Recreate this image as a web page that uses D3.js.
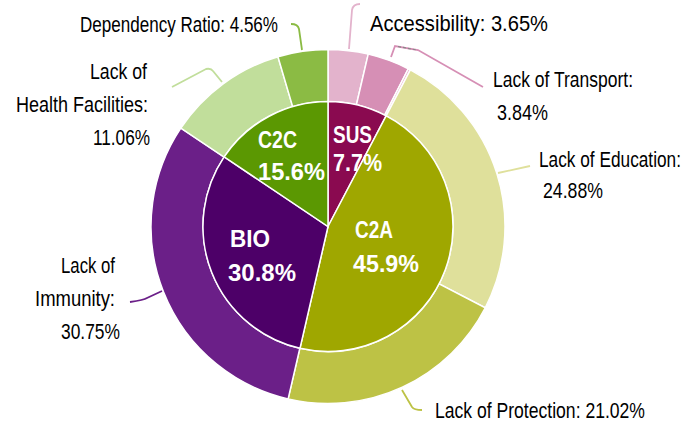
<!DOCTYPE html>
<html>
<head>
<meta charset="utf-8">
<script src="https://cdn.jsdelivr.net/npm/d3@7"></script>
<style>
  html, body { margin: 0; padding: 0; background: #fff; }
  svg { display: block; }
  .outer-label { font-family: "Liberation Sans", sans-serif; font-size: 22.5px; fill: #000; }
  .inner-label { font-family: "Liberation Sans", sans-serif; font-size: 24px; font-weight: bold; fill: #fff; }
</style>
</head>
<body>
<div id="chart"></div>
<script>
// inner ring: groups
const groups = ["SUS", "C2A", "BIO", "C2C"];
const groupValues = [7.7, 45.9, 30.8, 15.6];

// outer ring: factors
const factors = ["Accessibility", "Lack of Transport", "Other", "Lack of Education", "Lack of Protection",
                 "Lack of Immunity", "Lack of Health Facilities", "Dependency Ratio"];
const factorValues = [3.65, 3.84, 0.21, 24.88, 21.02, 30.75, 11.06, 4.56];
const factorGroups = ["SUS", "SUS", "SUS", "C2A", "C2A", "BIO", "C2C", "C2C"];

const groupColors = ["#8a0a50", "#9fa700", "#4d0068", "#5b9802"];
const factorColors = ["#e3b3cc", "#d68fb5", "#e7b3cd", "#dfe09b", "#bdc245", "#6b1f88", "#c1de9b", "#8bbb44"];

const width = 687, height = 425;
const cx = 328, cy = 226.5;
const rInner = 125, rOuter = 177;

const svg = d3.select("#chart").append("svg")
  .attr("width", width)
  .attr("height", height);

const g = svg.append("g").attr("transform", `translate(${cx},${cy})`);

const pie = d3.pie().sort(null).value(d => d.value);

const innerData = pie(groups.map((name, i) => ({ name, value: groupValues[i], color: groupColors[i] })));
const outerData = pie(factors.map((name, i) => ({ name, value: factorValues[i], group: factorGroups[i], color: factorColors[i] })));

const arcInner = d3.arc().innerRadius(0).outerRadius(rInner);
const arcOuter = d3.arc().innerRadius(rInner).outerRadius(rOuter);

g.selectAll("path.outer")
  .data(outerData)
  .enter().append("path")
  .attr("class", "outer")
  .attr("d", arcOuter)
  .attr("fill", d => d.data.color)
  .attr("stroke", "#fff")
  .attr("stroke-width", 1.5);

g.selectAll("path.inner")
  .data(innerData)
  .enter().append("path")
  .attr("class", "inner")
  .attr("d", arcInner)
  .attr("fill", d => d.data.color)
  .attr("stroke", "#fff")
  .attr("stroke-width", 1.5);

// squeeze text to the narrow widths of the original font
function addText(cls, x, y, str, w, anchor) {
  svg.append("text")
    .attr("class", cls)
    .attr("x", x)
    .attr("y", y)
    .attr("text-anchor", anchor || "start")
    .attr("textLength", w)
    .attr("lengthAdjust", "spacingAndGlyphs")
    .text(str);
}

// inner labels (left aligned, placed by hand like the original)
// [x, y, width] for name line and value line
const innerLabelPos = {
  SUS: [[333, 143, 39], [333, 171, 49]],
  C2A: [[355, 238, 38], [353, 272, 66]],
  BIO: [[230, 247, 40], [228, 281, 68]],
  C2C: [[258, 148, 39], [258, 180, 67]]
};
innerData.forEach(d => {
  const p = innerLabelPos[d.data.name];
  addText("inner-label", p[0][0], p[0][1], d.data.name, p[0][2]);
  addText("inner-label", p[1][0], p[1][1], d.data.value.toFixed(1) + "%", p[1][2]);
});

// outer labels and leader lines; line entries are [x, y, text, width]
const outerLabels = [
  { name: "Dependency Ratio", anchor: "end", lines: [[278, 32, "Dependency Ratio: 4.56%", 198]],
    path: "M302,50 L299,29 Q298,24 291,24" },
  { name: "Lack of Health Facilities", anchor: "end", lines: [[147, 79, "Lack of", 57], [148, 112, "Health Facilities:", 132], [150, 145, "11.06%", 57]],
    path: "M222,82 L213,71 Q211,68 206,69 L172,87" },
  { name: "Lack of Immunity", anchor: "end", lines: [[115, 273, "Lack of", 54], [115, 306, "Immunity:", 80], [120, 339, "30.75%", 59]],
    path: "M162,291 L147,298 Q144,300 130,302" },
  { name: "Accessibility", anchor: "start", lines: [[370, 31, "Accessibility: 3.65%", 178]],
    path: "M349,49 L352,10 Q353,4 360,4" },
  { name: "Lack of Transport", anchor: "start", lines: [[493, 87, "Lack of Transport:", 140], [497, 120, "3.84%", 51]],
    path: "M391,57 L395,46 L418,50 L483,87" },
  { name: "Lack of Education", anchor: "start", lines: [[539, 167, "Lack of Education:", 142], [543, 198, "24.88%", 60]],
    path: "M498,173 L530,166" },
  { name: "Lack of Protection", anchor: "start", lines: [[435, 418, "Lack of Protection: 21.02%", 210]],
    path: "M402,390 L412,407 Q414,410 422,410" }
];

outerLabels.forEach(l => {
  const i = factors.indexOf(l.name);
  svg.append("path")
    .attr("d", l.path)
    .attr("fill", "none")
    .attr("stroke", factorColors[i])
    .attr("stroke-width", 1.8);
  l.lines.forEach(t => addText("outer-label", t[0], t[1], t[2], t[3], l.anchor));
});

// small grey dashed piece on the transport leader
svg.append("path")
  .attr("d", "M398,46.5 L417,50")
  .attr("fill", "none")
  .attr("stroke", "#888")
  .attr("stroke-width", 1.2)
  .attr("stroke-dasharray", "3,2");
</script>
</body>
</html>
